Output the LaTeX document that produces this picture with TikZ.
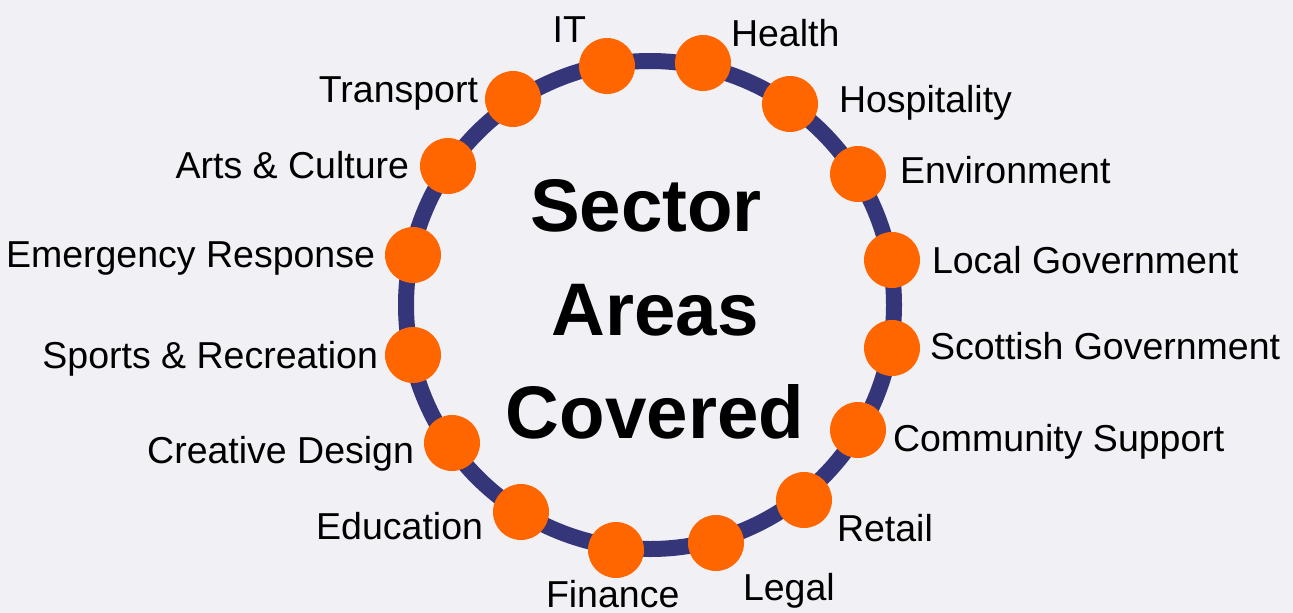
\documentclass[tikz,border=0pt]{standalone}
\usepackage{fontspec}
\setmainfont{Liberation Sans}
\definecolor{bgc}{HTML}{F0F0F5}
\definecolor{ringc}{HTML}{353679}
\definecolor{dotc}{HTML}{FF6600}
\begin{document}
\begin{tikzpicture}[x=1pt,y=-1pt,
  dot/.style={circle,fill=dotc,draw=none,minimum size=56pt,inner sep=0pt},
  lab/.style={inner sep=0pt,outer sep=0pt,font=\fontsize{37.5}{44}\selectfont,text=black},
  labw/.style={lab,anchor=base west},
  labe/.style={lab,anchor=base east},
  ttl/.style={inner sep=0pt,anchor=base,font=\fontsize{74.5}{88}\selectfont\bfseries,text=black}]
\fill[bgc] (0,0) rectangle (1293,613);
\useasboundingbox (0,0) rectangle (1293,613);
\node[circle,draw=ringc,line width=16pt,minimum size=488pt,inner sep=0pt] (ring) at (650,305) {};
% dots
\node[dot] (dIT) at (607,66) {};
\node[dot] (dHealth) at (703,63) {};
\node[dot] (dHosp) at (790,104) {};
\node[dot] (dEnv) at (858,174) {};
\node[dot] (dLocal) at (892,260) {};
\node[dot] (dScot) at (892,348) {};
\node[dot] (dComm) at (858,430) {};
\node[dot] (dRetail) at (804,500) {};
\node[dot] (dLegal) at (716,543) {};
\node[dot] (dFin) at (616,550) {};
\node[dot] (dEdu) at (521,512) {};
\node[dot] (dCreat) at (452,443) {};
\node[dot] (dSport) at (413,355) {};
\node[dot] (dEmerg) at (413,255) {};
\node[dot] (dArts) at (448,166) {};
\node[dot] (dTrans) at (513,99) {};
% labels
\node[labe] (lIT) at (586,42) {IT};
\node[labw] (lHealth) at (731,46) {Health};
\node[labw] (lHosp) at (839,112) {Hospitality};
\node[labw] (lEnv) at (900,183) {Environment};
\node[labw] (lLocal) at (932,273) {Local Government};
\node[labw] (lScot) at (930,359) {Scottish Government};
\node[labw] (lComm) at (893,451) {Community Support};
\node[labw] (lRetail) at (837,541) {Retail};
\node[labw] (lLegal) at (743,600) {Legal};
\node[labw] (lFin) at (546,607) {Finance};
\node[labe] (lEdu) at (483,539) {Education};
\node[labe] (lCreat) at (414,463) {Creative Design};
\node[labe] (lSport) at (378,368) {Sports \& Recreation};
\node[labe] (lEmerg) at (375,267) {Emergency Response};
\node[labe] (lArts) at (409,178) {Arts \& Culture};
\node[labe] (lTrans) at (478,102) {Transport};
% title
\node[ttl] (t1) at (646,231) {Sector};
\node[ttl] (t2) at (655,335) {Areas};
\node[ttl] (t3) at (655,438) {Covered};
\end{tikzpicture}
\end{document}
